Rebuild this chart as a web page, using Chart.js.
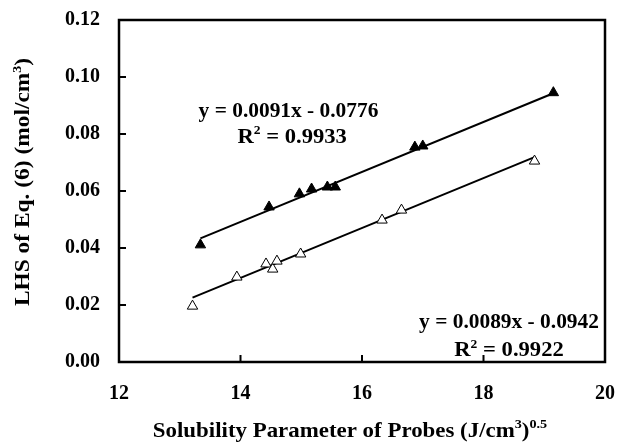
<!DOCTYPE html>
<html>
<head>
<meta charset="utf-8">
<script src="https://cdn.jsdelivr.net/npm/chart.js@4/dist/chart.umd.min.js"></script>
<style>
  body { margin: 0; background: #fff; }
  #wrap { width: 643px; height: 444px; }
</style>
</head>
<body>
<div id="wrap"><canvas id="chart"></canvas></div>
<script>
// filled triangles (upper series)
const filledX = [13.34, 14.47, 14.97, 15.17, 15.43, 15.56, 16.87, 17.00, 19.15];
const filledY = [0.0411, 0.0544, 0.0590, 0.0607, 0.0614, 0.0614, 0.0754, 0.0758, 0.0945];
// open triangles (lower series)
const openX = [13.21, 13.94, 14.42, 14.53, 14.60, 14.99, 16.33, 16.65, 18.84];
const openY = [0.0196, 0.0298, 0.0344, 0.0326, 0.0354, 0.0379, 0.0498, 0.0533, 0.0705];
// fitted lines, end points
const fitFilledX = [13.34, 19.15];
const fitFilledY = [0.0434, 0.0943];
const fitOpenX = [13.21, 18.84];
const fitOpenY = [0.0226, 0.0719];

const xTicks = [12, 14, 16, 18, 20];
const yTicks = [0, 0.02, 0.04, 0.06, 0.08, 0.10, 0.12];

const FONT = "'Liberation Serif', 'Times New Roman', serif";

const pts = (xs, ys) => xs.map((x, i) => ({ x: x, y: ys[i] }));

// draws a line of text made of normal and superscript runs, stretched sideways
function drawRuns(ctx, runs, x, y, size, stretch) {
    const supSize = Math.round(size * 0.62);
    let total = 0;
    runs.forEach(r => {
        ctx.font = `bold ${r.sup ? supSize : size}px ${FONT}`;
        r.w = ctx.measureText(r.t).width;
        total += r.w;
    });
    ctx.save();
    ctx.translate(x, y);
    ctx.scale(stretch, 1);
    let cx = -total / 2;
    ctx.textBaseline = 'alphabetic';
    ctx.textAlign = 'left';
    runs.forEach(r => {
        ctx.font = `bold ${r.sup ? supSize : size}px ${FONT}`;
        ctx.fillText(r.t, cx, r.sup ? -size * 0.42 : 0);
        cx += r.w;
    });
    ctx.restore();
}

const notes = [
    { x: 14.79, y: 0.0860, s: 1.07, runs: [{ t: 'y = 0.0091x - 0.0776' }] },
    { x: 14.85, y: 0.0770, s: 1.13, runs: [{ t: 'R' }, { t: '2', sup: true }, { t: ' = 0.9933' }] },
    { x: 18.42, y: 0.0118, s: 1.07, runs: [{ t: 'y = 0.0089x - 0.0942' }] },
    { x: 18.42, y: 0.0020, s: 1.13, runs: [{ t: 'R' }, { t: '2', sup: true }, { t: ' = 0.9922' }] }
];

const decor = {
    id: 'decor',
    afterDraw(chart) {
        const { ctx, scales: { x, y }, chartArea: a } = chart;
        ctx.save();
        ctx.strokeStyle = '#000';
        ctx.lineWidth = 2;
        // inner tick marks
        ctx.beginPath();
        yTicks.forEach(v => {
            const py = y.getPixelForValue(v);
            ctx.moveTo(a.left, py);
            ctx.lineTo(a.left + 7, py);
        });
        xTicks.forEach(v => {
            const px = x.getPixelForValue(v);
            ctx.moveTo(px, a.bottom);
            ctx.lineTo(px, a.bottom - 7);
        });
        ctx.stroke();
        ctx.lineWidth = 2.5;
        ctx.strokeRect(a.left, a.top, a.right - a.left, a.bottom - a.top);

        ctx.fillStyle = '#000';
        notes.forEach(n => {
            drawRuns(ctx, n.runs, x.getPixelForValue(n.x), y.getPixelForValue(n.y), 20, n.s);
        });

        // axis titles
        drawRuns(ctx, [{ t: 'Solubility Parameter of Probes (J/cm' }, { t: '3', sup: true }, { t: ')' }, { t: '0.5', sup: true }],
            350, 437, 21, 1.09);
        ctx.translate(29, 182);
        ctx.rotate(-Math.PI / 2);
        drawRuns(ctx, [{ t: 'LHS of Eq. (6) (mol/cm' }, { t: '3', sup: true }, { t: ')' }], 0, 0, 20, 1.17);
        ctx.restore();
    }
};

new Chart(document.getElementById('chart'), {
    type: 'scatter',
    data: {
        datasets: [
            {
                data: pts(filledX, filledY),
                pointStyle: 'triangle',
                pointRadius: 6,
                backgroundColor: '#000',
                borderColor: '#000',
                borderWidth: 1
            },
            {
                data: pts(openX, openY),
                pointStyle: 'triangle',
                pointRadius: 6,
                backgroundColor: '#fff',
                borderColor: '#000',
                borderWidth: 1
            },
            {
                type: 'line',
                data: pts(fitFilledX, fitFilledY),
                borderColor: '#000',
                borderWidth: 2,
                pointRadius: 0,
                fill: false
            },
            {
                type: 'line',
                data: pts(fitOpenX, fitOpenY),
                borderColor: '#000',
                borderWidth: 2,
                pointRadius: 0,
                fill: false
            }
        ]
    },
    options: {
        responsive: true,
        maintainAspectRatio: false,
        animation: false,
        layout: { padding: { top: 20, right: 38, bottom: 0, left: 0 } },
        plugins: {
            legend: { display: false },
            tooltip: { enabled: false }
        },
        scales: {
            x: {
                type: 'linear',
                min: 12,
                max: 20,
                afterBuildTicks: s => { s.ticks = xTicks.map(v => ({ value: v })); },
                afterFit: s => { s.height = 82; s.paddingLeft = 0; s.paddingRight = 0; },
                grid: { display: false, drawTicks: false },
                border: { display: false },
                ticks: {
                    padding: 20,
                    color: '#000',
                    font: { family: FONT, size: 20, weight: 'bold' },
                    callback: v => String(v)
                }
            },
            y: {
                type: 'linear',
                min: 0,
                max: 0.12,
                afterBuildTicks: s => { s.ticks = yTicks.map(v => ({ value: v })); },
                afterFit: s => { s.width = 119; s.paddingTop = 0; s.paddingBottom = 0; },
                grid: { display: false, drawTicks: false },
                border: { display: false },
                ticks: {
                    padding: 19,
                    color: '#000',
                    font: { family: FONT, size: 20, weight: 'bold' },
                    callback: v => v.toFixed(2)
                }
            }
        }
    },
    plugins: [decor]
});
</script>
</body>
</html>
